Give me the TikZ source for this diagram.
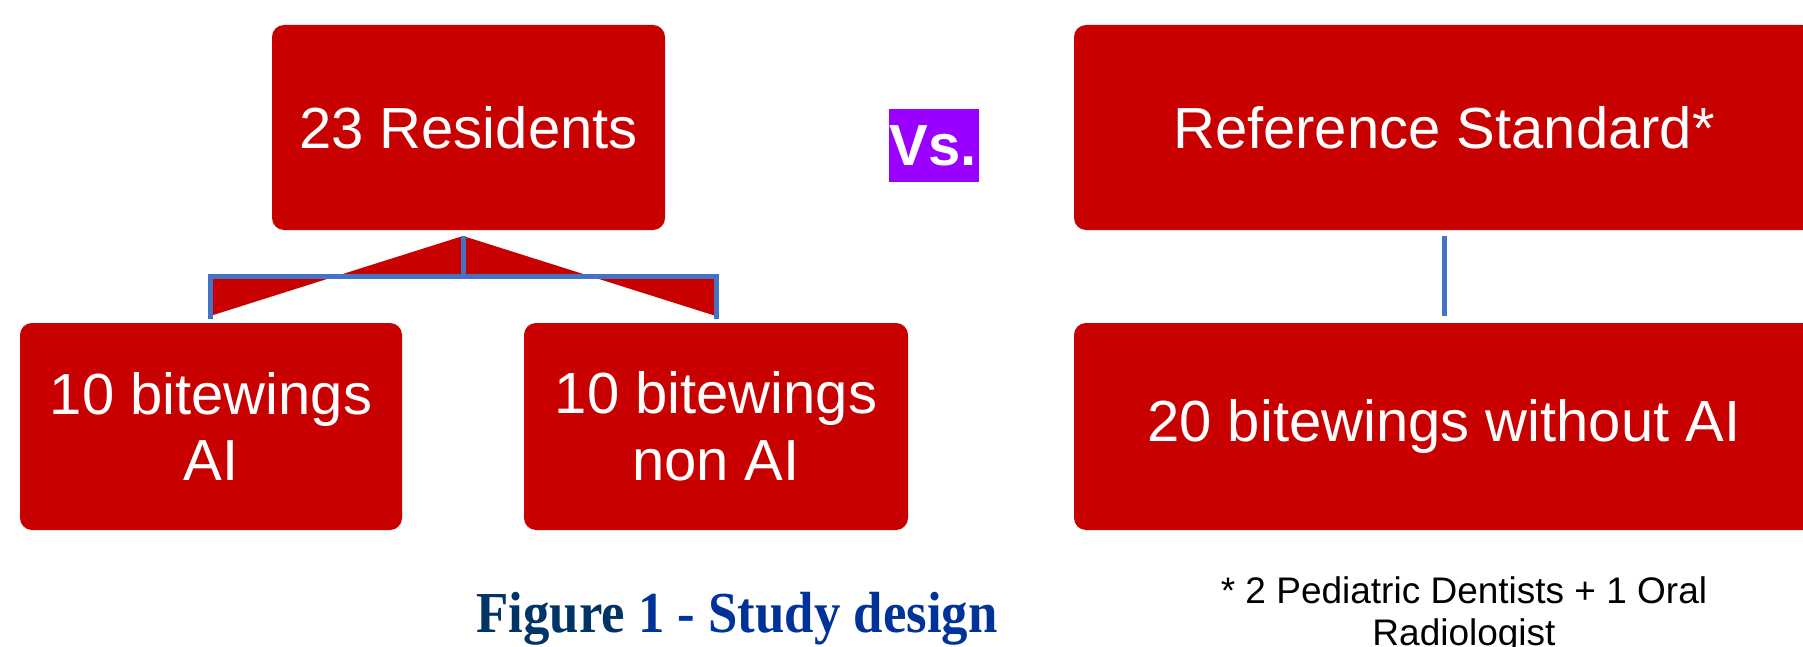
\documentclass[tikz,border=0pt]{standalone}
\usepackage{fontspec}
\setmainfont{Liberation Sans}
\newfontfamily\serifbold{Liberation Serif}
\definecolor{boxred}{RGB}{200,0,0}
\definecolor{vspurple}{RGB}{153,0,255}
\definecolor{connblue}{RGB}{68,114,196}
\definecolor{capnavy}{RGB}{0,51,102}
\definecolor{capblue}{RGB}{0,51,153}
\tikzset{
  redbox/.style={fill=boxred, text=white, rounded corners=12pt, align=center,
    inner sep=0pt, font=\fontsize{58}{66.7}\selectfont},
  conn/.style={draw=connblue, line width=5pt},
}
\begin{document}
\begin{tikzpicture}[x=1pt,y=-1pt]
\clip (0,0) rectangle (1803,647);
\fill[white] (0,0) rectangle (1803,647);
% boxes
\node[redbox, minimum width=393pt, minimum height=205pt] (tl) at (468.5,127.5) {23 Residents};
\node[redbox, minimum width=382pt, minimum height=207pt] (ai) at (211,426.5) {10 bitewings\\AI};
\node[redbox, minimum width=384pt, minimum height=207pt] (nai) at (716,426.5) {10 bitewings\\non AI};
\node[redbox, minimum width=740pt, minimum height=205pt] (rs) at (1444,127.5) {Reference Standard*};
\node[redbox, minimum width=740pt, minimum height=207pt] (rb) at (1444,426.5) {20 bitewings without AI};
% Vs
\node[fill=vspurple, text=white, inner sep=0pt, minimum width=90pt, minimum height=73pt,
  font=\fontsize{58}{58}\selectfont\bfseries] (vs) at (933.5,145.5) {Vs.};
% connectors left tree
\coordinate (apex) at (463,236);
\coordinate (bar) at (463,276);
\coordinate (lt) at (210,316);
\coordinate (mt) at (716,316);
\fill[boxred, even odd rule] (apex) -- (lt) -- (lt |- bar) -- (mt |- bar) -- (mt) -- cycle;
\draw[conn] (apex) -- (bar);
\draw[conn, line cap=rect] (lt) -- (lt |- bar) -- (mt |- bar) -- (mt);
% right connector
\coordinate (r1) at (1444,236);
\coordinate (r2) at (1444,316);
\draw[conn] (r1) -- (r2);
% caption
\node[anchor=base, inner sep=0pt, xscale=0.91, font=\serifbold\fontsize{58}{62}\selectfont\bfseries] (cap) at (737,632)
  {\textcolor{capnavy}{Figure} \textcolor{capblue}{1 - Study design}};
% footnote
\node[anchor=base, inner sep=0pt, align=center, font=\fontsize{37}{42}\selectfont] (fn) at (1464,645)
  {* 2 Pediatric Dentists + 1 Oral\\Radiologist};
\end{tikzpicture}
\end{document}
